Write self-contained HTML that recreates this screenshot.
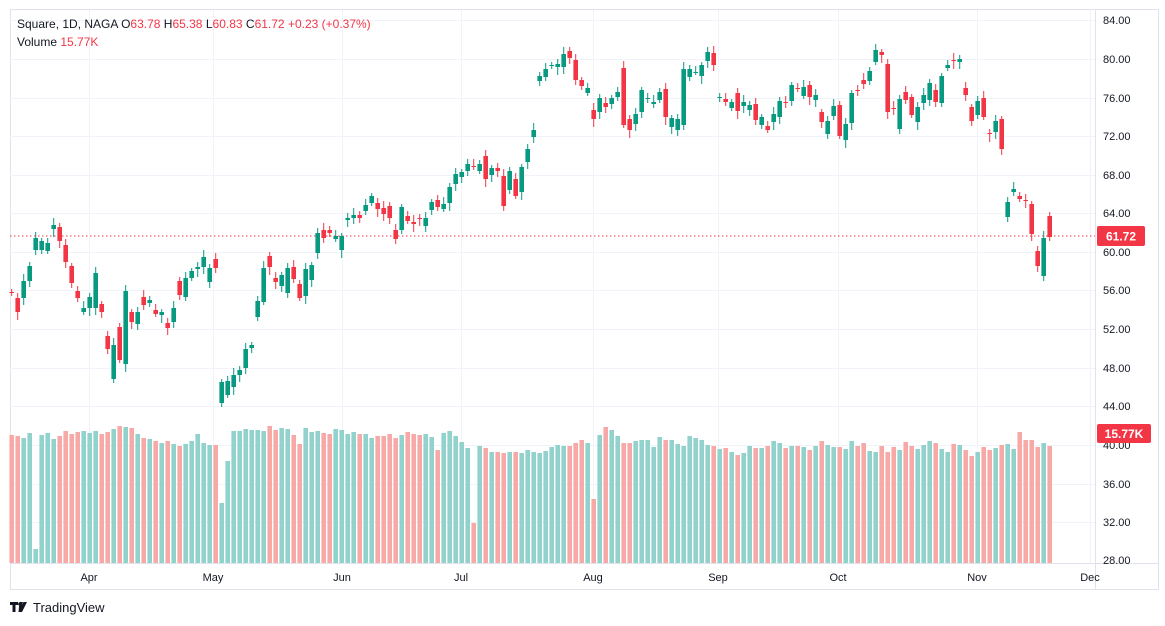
<!DOCTYPE html>
<html><head><meta charset="utf-8"><style>
html,body{margin:0;padding:0;background:#fff;width:1165px;height:626px;overflow:hidden}
svg text{font-family:"Liberation Sans",sans-serif}
</style></head><body>
<svg id="s" width="1165" height="626" xmlns="http://www.w3.org/2000/svg">
<rect x="0" y="0" width="1165" height="626" fill="#fff"/>
<rect x="10.5" y="9.5" width="1148" height="580" fill="none" stroke="#e0e3eb"/>
<g id="grid"></g>
<g id="vol"></g>
<line x1="10" y1="236" x2="1095" y2="236" stroke="#f23645" stroke-dasharray="1.5,2.5" stroke-width="1"/>
<g id="cand"></g>
<line x1="1095.5" y1="10" x2="1095.5" y2="590" stroke="#e0e3eb"/>
<line x1="10" y1="563.5" x2="1159" y2="563.5" stroke="#e0e3eb"/>
<g id="axis" font-size="11" fill="#131722"></g>
<rect x="1097" y="226" width="48" height="20" rx="2" fill="#f23645"/>
<text x="1121" y="240.5" font-size="12" fill="#fff" text-anchor="middle" font-weight="bold">61.72</text>
<rect x="1097" y="424" width="54" height="19" rx="2" fill="#f23645"/>
<text x="1124" y="438" font-size="12" fill="#fff" text-anchor="middle" font-weight="bold">15.77K</text>
<text x="17" y="28" font-size="12" fill="#131722">Square, 1D, NAGA <tspan fill="#131722">O</tspan><tspan fill="#f23645">63.78</tspan> <tspan fill="#131722">H</tspan><tspan fill="#f23645">65.38</tspan> <tspan fill="#131722">L</tspan><tspan fill="#f23645">60.83</tspan> <tspan fill="#131722">C</tspan><tspan fill="#f23645">61.72</tspan> <tspan fill="#f23645">+0.23 (+0.37%)</tspan></text>
<text x="17" y="46" font-size="12" fill="#131722">Volume <tspan fill="#f23645">15.77K</tspan></text>
<g transform="translate(10,601)"><path d="M0 1h8v3h-2.5v7h-3v-7h-2.5z M9.5 1h3.5l-1.5 3.5 2 -3.5h3.5l-5 10h-3.5z" fill="#131722"/><circle cx="9.8" cy="3" r="1.6" fill="#131722"/></g>
<text x="33" y="612" font-size="13" fill="#131722">TradingView</text>
</svg>
<script>
const NS="http://www.w3.org/2000/svg";
function el(p,t,a,txt){const e=document.createElementNS(NS,t);for(const k in a)e.setAttribute(k,a[k]);if(txt)e.textContent=txt;document.getElementById(p).appendChild(e);return e;}
const ys=[[20,"84.00"],[59,"80.00"],[98,"76.00"],[136,"72.00"],[175,"68.00"],[213,"64.00"],[252,"60.00"],[290,"56.00"],[329,"52.00"],[368,"48.00"],[406,"44.00"],[445,"40.00"],[484,"36.00"],[522,"32.00"],[560,"28.00"]];
ys.forEach(([y,t])=>{ if(y<555) el("grid","line",{x1:10,x2:1095,y1:y+.5,y2:y+.5,stroke:"#f0f3fa"}); el("axis","text",{x:1103,y:y+4},t);});
const xs=[[89,"Apr"],[213,"May"],[342,"Jun"],[461,"Jul"],[593,"Aug"],[718,"Sep"],[838,"Oct"],[977,"Nov"],[1090,"Dec"]];
xs.forEach(([x,t])=>{ if(x<1094) el("grid","line",{x1:x+.5,x2:x+.5,y1:10,y2:563,stroke:"#f0f3fa"}); el("axis","text",{x:x,y:581,"text-anchor":"middle"},t);});
const C=[[292,293],[298,312],[298,281],[281,266],[250,238],[250,241],[251,243],[229,225],[227,241],[245,262],[266,283],[291,298],[312,308],[308,297],[308,273],[304,312],[336,349],[379,345],[327,360],[364,291],[312,322],[324,312],[297,305],[303,300],[310,314],[315,312],[323,328],[322,308],[281,295],[297,278],[278,271],[269,267],[267,257],[282,268],[259,268],
[403,382],[395,381],[387,375],[375,370],[368,349],[348,345],[317,301],[302,268],[256,267],[278,282],[286,275],[293,268],[267,279],[284,298],[296,269],[280,265],[253,233],[230,238],[230,233],[239,236],[250,236],[220,218],[218,215],[215,218],[211,205],[203,196],[203,209],[208,214],[206,218],[230,239],[230,207],[216,221],[222,224],[218,219],[226,218],[210,202],[200,207],[209,204],[203,187],[184,174],[177,172],[171,164],[166,166],[171,164],[156,179],[175,168],[168,171],[176,206],[190,171],[179,196],[192,167],[162,149],[137,130],[81,76],[77,69],[66,65],[67,64],[67,54],[51,58],[60,80],[80,86],[93,88],[110,119],[112,98],[103,107],[104,98],[97,92],[68,125],[119,130],[124,114],[112,90],[98,98],[104,102],[100,92],[89,117],[127,118],[130,119],[125,69],[77,69],[72,72],
[76,65],[61,52],[53,65],[97,97],[99,102],[108,102],[93,111],[106,102],[110,105],[104,120],[125,117],[126,130],[122,114],[117,101],[102,102],[101,85],[88,88],[96,87],[85,97],[100,95],[112,122],[134,121],[116,106],[105,136],[140,124],[123,93],[90,90],[80,84],[81,71],[62,50],[52,55],[64,112],[108,109],[129,99],[92,100],[97,115],[122,107],[103,95],[100,83],[90,102],[103,76],[68,65],[60,61],[62,59],[88,95],[107,121],[115,101],[98,117],[133,134],[132,121],[119,149],
[217,202],[192,189],[196,199],[200,200],[204,234],[251,266],[276,238],[216,237]];
const G="#089981",R="#f23645",GV="#92d2cc",RV="#f7a9a7";
const VT=[435,436,438,433,549,435,433,439,436,431,434,432,431,433,431,434,432,429,426,427,428,434,438,439,441,443,441,444,446,444,441,434,443,445,445,503,461,431,431,429,430,430,431,426,430,428,429,435,444,428,432,431,433,434,429,430,434,432,434,434,438,436,436,434,438,435,432,434,435,434,437,450,433,431,436,442,448,523,446,448,452,452,453,452,452,453,450,452,453,451,447,445,446,446,443,440,443,499,435,427,430,436,443,443,441,440,440,447,437,440,440,444,446,436,438,440,445,446,449,448,452,455,453,446,448,448,446,441,443,448,446,446,447,450,446,441,445,447,447,449,441,446,443,451,452,446,452,447,450,442,446,449,445,441,443,449,452,444,445,450,456,452,447,450,448,445,444,449,432,440,440,447,443,446,445,432];
C.forEach(([o,c],i)=>{
  const x=11.7+6*i; const up=c<o||(c==o&&i%2==0);
  const col=up?G:R;
  const top=Math.min(o,c), bot=Math.max(o,c);
  const hh=top-(3+((i*7)%5)), ll=bot+(3+((i*11)%6));
  el("cand","line",{x1:x,x2:x,y1:hh,y2:ll,stroke:col,"stroke-width":1});
  el("cand","rect",{x:x-2.3,y:top,width:4.6,height:Math.max(1,bot-top),fill:col});
  const vt=VT[i]||440;
  el("vol","rect",{x:x-2.3,y:vt,width:4.6,height:563-vt,fill:up?GV:RV});
});
</script>
</body></html>
